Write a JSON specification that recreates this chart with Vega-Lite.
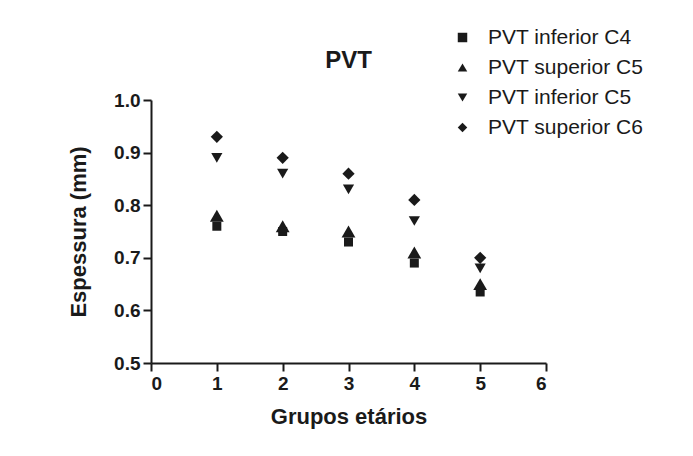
{
  "$schema": "https://vega.github.io/schema/vega-lite/v6.json",
  "autosize": "none",
  "width": 395,
  "height": 263,
  "padding": {"left": 151, "top": 100, "right": 147, "bottom": 93},
  "background": "white",
  "title": {"text": "PVT", "font": "Liberation Sans", "fontSize": 24, "fontWeight": "bold", "color": "#1a1a1a", "anchor": "middle", "offset": 0, "dy": 46},
  "data": {"values": [
    {"grupo": 1, "serie": "PVT inferior C4", "valor": 0.76},
    {"grupo": 2, "serie": "PVT inferior C4", "valor": 0.75},
    {"grupo": 3, "serie": "PVT inferior C4", "valor": 0.73},
    {"grupo": 4, "serie": "PVT inferior C4", "valor": 0.69},
    {"grupo": 5, "serie": "PVT inferior C4", "valor": 0.635},
    {"grupo": 1, "serie": "PVT superior C5", "valor": 0.78},
    {"grupo": 2, "serie": "PVT superior C5", "valor": 0.76},
    {"grupo": 3, "serie": "PVT superior C5", "valor": 0.75},
    {"grupo": 4, "serie": "PVT superior C5", "valor": 0.71},
    {"grupo": 5, "serie": "PVT superior C5", "valor": 0.65},
    {"grupo": 1, "serie": "PVT inferior C5", "valor": 0.89},
    {"grupo": 2, "serie": "PVT inferior C5", "valor": 0.86},
    {"grupo": 3, "serie": "PVT inferior C5", "valor": 0.83},
    {"grupo": 4, "serie": "PVT inferior C5", "valor": 0.77},
    {"grupo": 5, "serie": "PVT inferior C5", "valor": 0.68},
    {"grupo": 1, "serie": "PVT superior C6", "valor": 0.93},
    {"grupo": 2, "serie": "PVT superior C6", "valor": 0.89},
    {"grupo": 3, "serie": "PVT superior C6", "valor": 0.86},
    {"grupo": 4, "serie": "PVT superior C6", "valor": 0.81},
    {"grupo": 5, "serie": "PVT superior C6", "valor": 0.70}
  ]},
  "encoding": {
    "x": {"field": "grupo", "type": "quantitative", "title": "Grupos etários",
      "scale": {"domain": [0, 6], "nice": false, "zero": false},
      "axis": {"values": [0, 1, 2, 3, 4, 5, 6], "format": "d", "titlePadding": 13}},
    "y": {"field": "valor", "type": "quantitative", "title": "Espessura (mm)",
      "scale": {"domain": [0.5, 1.0], "nice": false, "zero": false},
      "axis": {"values": [0.5, 0.6, 0.7, 0.8, 0.9, 1.0], "format": ".1f", "titlePadding": 23}},
    "shape": {"field": "serie", "type": "nominal",
      "scale": {"domain": ["PVT inferior C4", "PVT superior C5", "PVT inferior C5", "PVT superior C6"],
        "range": ["square", "triangle-up", "triangle-down", "diamond"]},
      "legend": {"title": null, "orient": "none", "legendX": 301, "legendY": -73,
        "labelFontSize": 21, "labelFont": "Liberation Sans", "labelColor": "#1a1a1a",
        "symbolSize": 90, "symbolFillColor": "#1a1a1a", "symbolStrokeColor": "#1a1a1a", "symbolType": "circle",
        "rowPadding": 8, "labelOffset": 15, "labelLimit": 300}}
  },
  "layer": [
    {"transform": [{"filter": "datum.serie == 'PVT inferior C4'"}],
     "mark": {"type": "point", "filled": true, "opacity": 1, "color": "#1a1a1a", "size": 81}},
    {"transform": [{"filter": "datum.serie == 'PVT superior C5'"}],
     "mark": {"type": "point", "filled": true, "opacity": 1, "color": "#1a1a1a", "size": 190}},
    {"transform": [{"filter": "datum.serie == 'PVT inferior C5'"}],
     "mark": {"type": "point", "filled": true, "opacity": 1, "color": "#1a1a1a", "size": 125}},
    {"transform": [{"filter": "datum.serie == 'PVT superior C6'"}],
     "mark": {"type": "point", "filled": true, "opacity": 1, "color": "#1a1a1a", "size": 150}}
  ],
  "config": {
    "view": {"stroke": null},
    "axis": {
      "grid": false,
      "domainColor": "#1a1a1a", "domainWidth": 2,
      "tickColor": "#1a1a1a", "tickWidth": 2, "tickSize": 8,
      "labelFont": "Liberation Sans", "labelFontSize": 19, "labelFontWeight": "bold", "labelColor": "#1a1a1a",
      "titleFont": "Liberation Sans", "titleFontSize": 22, "titleFontWeight": "bold", "titleColor": "#1a1a1a",
      "labelPadding": 3
    }
  }
}
